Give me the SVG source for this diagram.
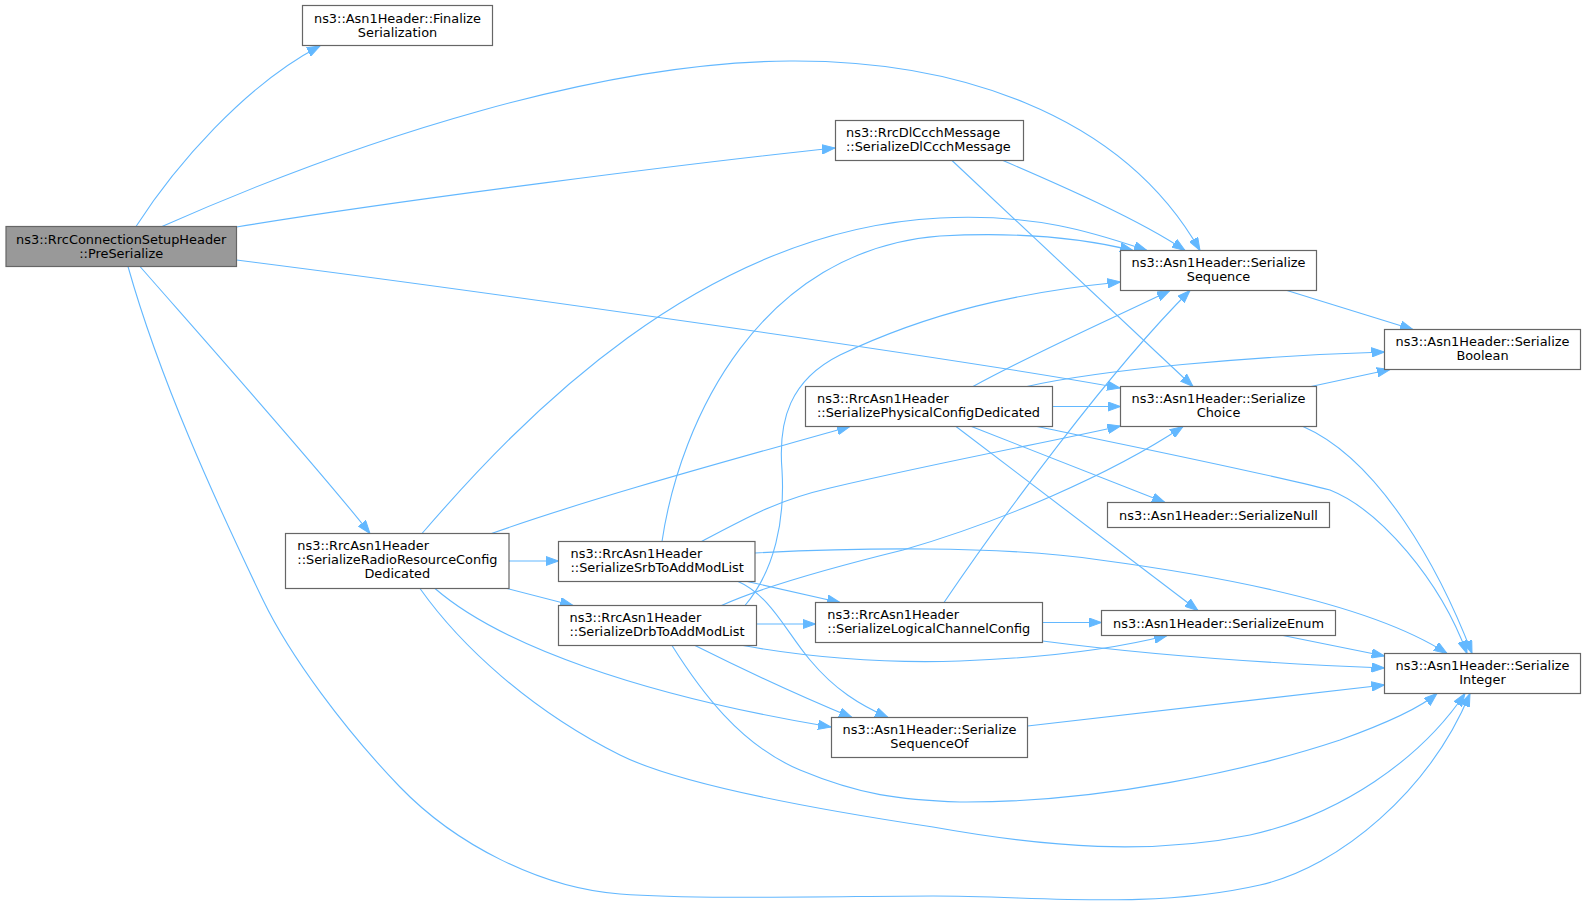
<svg xmlns="http://www.w3.org/2000/svg" width="1587" height="914" viewBox="0 0 1587 914">
<style>
.n rect{fill:#ffffff;stroke:#666666;stroke-width:1.2}
.root rect{fill:#999999;stroke:#666666;stroke-width:1.2}
text{font-family:"DejaVu Sans","Liberation Sans",sans-serif;font-size:12.9px;fill:#000000}
.c{text-anchor:middle}
#edges path{fill:none;stroke:#63b8ff;stroke-width:1.1;marker-end:url(#arr)}
</style>
<defs>
<marker id="arr" markerUnits="userSpaceOnUse" markerWidth="14" markerHeight="10" refX="13" refY="5" orient="auto">
<path d="M0,0.3 L13,5 L0,9.7 z" fill="#63b8ff" stroke="#63b8ff" stroke-width="1"/>
</marker>
</defs>
<rect width="1587" height="914" fill="#ffffff"/>
<g id="edges">
<path d="M136,226.5 C175,166 245,85 320,46"/>
<path d="M162,226.5 C362,138 600,62 790,61 C950,60 1120,110 1200,250.5"/>
<path d="M236.5,227 C400,200 700,162 835,148"/>
<path d="M236.5,260 C450,287 950,357 1120,388"/>
<path d="M140,266.5 C200,335 320,470 370,533.5"/>
<path d="M128,266.5 C160,380 215,500 263,600 C290,656 345,730 400,787 C455,844 540,888 620,894 C700,900 850,896 933,896 C1040,896 1150,910 1260,885 C1340,867 1430,790 1470,693.5"/>
<path d="M1003,160.5 C1060,185 1140,220 1185,250.5"/>
<path d="M952,160.5 L1193,386.5"/>
<path d="M1287,290.5 L1413,329.5"/>
<path d="M1311,386.5 L1390,369.5"/>
<path d="M1303,426.5 C1380,460 1440,570 1472,653.5"/>
<path d="M973,386.5 C1040,350 1120,315 1170,290.5"/>
<path d="M1027,386.5 C1100,370 1250,356 1384.5,352"/>
<path d="M1052.5,406.5 L1120.5,406.5"/>
<path d="M971.5,426.5 L1165,502.5"/>
<path d="M956,426.5 L1198,610.5"/>
<path d="M1037,426.5 C1150,450 1260,472 1330,490 C1380,510 1440,580 1467,653.5"/>
<path d="M422,533.5 C520,420 700,230 940,218 C1040,213 1100,235 1147,250.5"/>
<path d="M491.5,533.5 C600,495 750,455 850,426.5"/>
<path d="M509,561 L558.5,561"/>
<path d="M507,588.5 L573,605.5"/>
<path d="M435,588.5 C500,645 640,695 831,727"/>
<path d="M420,588.5 C460,645 530,710 620,755 C680,785 820,810 933,827 C1050,848 1150,855 1250,835 C1340,815 1420,760 1465,693.5"/>
<path d="M662,541.5 C680,420 760,250 940,236 C1030,231 1090,240 1133,250.5"/>
<path d="M701.5,541.5 C740,522 770,502 830,488 C950,460 1050,442 1120.5,426"/>
<path d="M755,553 C850,548 1000,545 1100,560 C1250,580 1380,610 1447,653.5"/>
<path d="M745,581 L840,602.5"/>
<path d="M737,581 C770,595 785,630 810,660 C835,690 860,705 888,717.5"/>
<path d="M745,605.5 C775,570 785,520 782,470 C778,420 790,380 840,355 C930,312 1020,292 1120.5,282"/>
<path d="M721.5,605.5 C760,588 830,568 903,550 C1000,522 1110,475 1183,426.5"/>
<path d="M756.5,624 L815.5,624"/>
<path d="M743,645.5 C800,656 880,664 960,661 C1040,658 1110,650 1167,635.5"/>
<path d="M695,645.5 C740,668 800,696 852,717.5"/>
<path d="M672,645.5 C700,690 740,745 800,770 C860,795 900,800 960,802 C1100,803 1250,770 1340,740 C1390,722 1420,708 1437,693.5"/>
<path d="M944,602.5 C1000,520 1110,370 1190,290.5"/>
<path d="M1042.5,622.5 L1101.5,622.5"/>
<path d="M1042.5,641 C1150,655 1280,664 1384.5,668"/>
<path d="M1283,635.5 L1384.5,656"/>
<path d="M1027.5,726 L1384.5,685"/>
</g>
<g id="node-preserialize" class="root">
<rect x="6" y="226.5" width="230.5" height="40"/>
<text class="c" x="121.2" y="243.5">ns3::RrcConnectionSetupHeader</text>
<text class="c" x="121.2" y="257.5">::PreSerialize</text>
</g>
<g id="node-finalize" class="n">
<rect x="302.5" y="5.5" width="190" height="40"/>
<text class="c" x="397.5" y="22.5">ns3::Asn1Header::Finalize</text>
<text class="c" x="397.5" y="36.5">Serialization</text>
</g>
<g id="node-dlccch" class="n">
<rect x="835.5" y="120.5" width="188" height="40"/>
<text x="846" y="137">ns3::RrcDlCcchMessage</text>
<text x="846" y="151">::SerializeDlCcchMessage</text>
</g>
<g id="node-sequence" class="n">
<rect x="1120.5" y="250.5" width="196" height="40"/>
<text class="c" x="1218.5" y="267">ns3::Asn1Header::Serialize</text>
<text class="c" x="1218.5" y="281">Sequence</text>
</g>
<g id="node-boolean" class="n">
<rect x="1384.5" y="329.5" width="196" height="40"/>
<text class="c" x="1482.5" y="346">ns3::Asn1Header::Serialize</text>
<text class="c" x="1482.5" y="360">Boolean</text>
</g>
<g id="node-choice" class="n">
<rect x="1120.5" y="386.5" width="196" height="40"/>
<text class="c" x="1218.5" y="403">ns3::Asn1Header::Serialize</text>
<text class="c" x="1218.5" y="417">Choice</text>
</g>
<g id="node-physconfig" class="n">
<rect x="805.5" y="386.5" width="247" height="40"/>
<text x="817" y="403">ns3::RrcAsn1Header</text>
<text x="817" y="417">::SerializePhysicalConfigDedicated</text>
</g>
<g id="node-null" class="n">
<rect x="1107.5" y="502.5" width="222" height="25"/>
<text class="c" x="1218.5" y="519.5">ns3::Asn1Header::SerializeNull</text>
</g>
<g id="node-enum" class="n">
<rect x="1101.5" y="610.5" width="234" height="25"/>
<text class="c" x="1218.5" y="627.5">ns3::Asn1Header::SerializeEnum</text>
</g>
<g id="node-integer" class="n">
<rect x="1384.5" y="653.5" width="196" height="40"/>
<text class="c" x="1482.5" y="670">ns3::Asn1Header::Serialize</text>
<text class="c" x="1482.5" y="684">Integer</text>
</g>
<g id="node-rrcdedicated" class="n">
<rect x="285.5" y="533.5" width="223.5" height="55"/>
<text x="297.3" y="550">ns3::RrcAsn1Header</text>
<text x="297.3" y="564">::SerializeRadioResourceConfig</text>
<text class="c" x="397.3" y="578">Dedicated</text>
</g>
<g id="node-srb" class="n">
<rect x="558.5" y="541.5" width="196.5" height="40"/>
<text x="570.5" y="558">ns3::RrcAsn1Header</text>
<text x="570.5" y="572">::SerializeSrbToAddModList</text>
</g>
<g id="node-drb" class="n">
<rect x="558.5" y="605.5" width="198" height="40"/>
<text x="569.5" y="622">ns3::RrcAsn1Header</text>
<text x="569.5" y="636">::SerializeDrbToAddModList</text>
</g>
<g id="node-logicalchannel" class="n">
<rect x="815.5" y="602.5" width="227" height="40"/>
<text x="827.3" y="619">ns3::RrcAsn1Header</text>
<text x="827.3" y="633">::SerializeLogicalChannelConfig</text>
</g>
<g id="node-sequenceof" class="n">
<rect x="831.5" y="717.5" width="196" height="40"/>
<text class="c" x="929.5" y="734">ns3::Asn1Header::Serialize</text>
<text class="c" x="929.5" y="748">SequenceOf</text>
</g>
</svg>
